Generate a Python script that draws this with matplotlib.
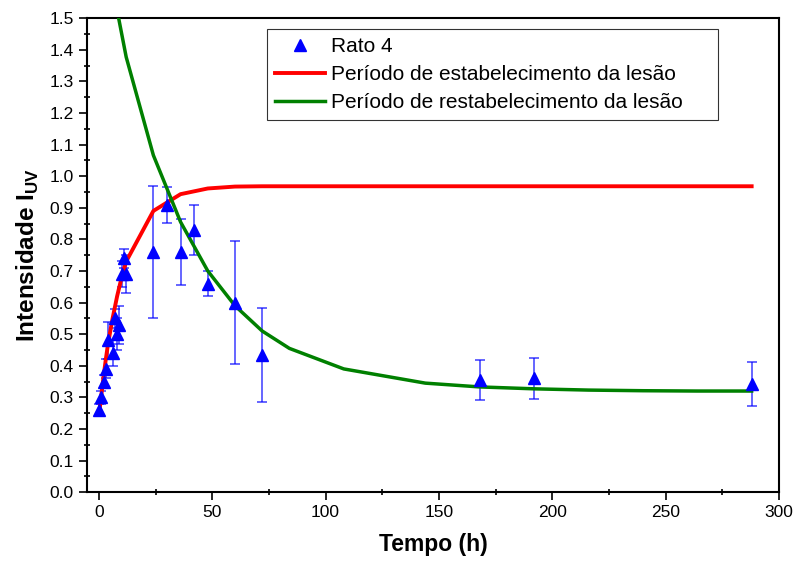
import numpy as np
import matplotlib
matplotlib.use("Agg")
import matplotlib.pyplot as plt

plt.rcParams['font.family'] = ['Liberation Sans', 'DejaVu Sans']
plt.rcParams['mathtext.fontset'] = 'custom'
plt.rcParams['mathtext.rm'] = 'Liberation Sans'
plt.rcParams['mathtext.bf'] = 'Liberation Sans:bold'

# measured points (Rato 4)
t_data = [0, 1, 2, 3, 4, 6, 7, 8, 9, 10, 11, 12, 24, 30, 36, 42, 48, 60, 72, 168, 192, 288]
i_data = [0.26, 0.30, 0.35, 0.39, 0.48, 0.44, 0.55, 0.50, 0.53, 0.69, 0.74, 0.69,
          0.76, 0.91, 0.76, 0.83, 0.66, 0.60, 0.435, 0.355, 0.36, 0.343]
i_err = [0.02, 0.02, 0.02, 0.03, 0.06, 0.04, 0.03, 0.05, 0.06, 0.04, 0.03, 0.06,
         0.21, 0.057, 0.105, 0.08, 0.04, 0.196, 0.149, 0.063, 0.064, 0.069]

# fitted curves
t_est = [0, 1, 2, 3, 4, 6, 8, 10, 12, 24, 36, 48, 60, 72, 84, 108, 144, 168, 192, 216, 240, 264, 288]
i_est = [0.245, 0.305, 0.365, 0.42, 0.47, 0.55, 0.62, 0.68, 0.73, 0.89, 0.943, 0.961, 0.967,
         0.968, 0.968, 0.968, 0.968, 0.968, 0.968, 0.968, 0.968, 0.968, 0.968]

t_rest = [0, 12, 24, 36, 48, 60, 72, 84, 108, 144, 168, 192, 216, 240, 264, 288]
i_rest = [1.82, 1.377, 1.066, 0.855, 0.70, 0.59, 0.51, 0.455, 0.39, 0.345, 0.333, 0.327,
          0.323, 0.321, 0.32, 0.32]

fig = plt.figure(figsize=(7.98, 5.67), dpi=100)
ax = fig.add_axes([0.109, 0.132, 0.867, 0.836])

ax.errorbar(t_data, i_data, yerr=i_err, fmt='none', ecolor='#0000ff', alpha=0.7,
            elinewidth=1.2, capsize=3.5, capthick=1.2, zorder=2)
ax.plot(t_data, i_data, '^', color='#0000ff', markersize=9, label='Rato 4', zorder=4)
ax.plot(t_est, i_est, color='#ff0000', lw=2.8, label='Período de estabelecimento da lesão', zorder=3)
ax.plot(t_rest, i_rest, color='#008000', lw=2.5, label='Período de restabelecimento da lesão', zorder=3)

ax.set_xlim(-5.3, 300)
ax.set_ylim(0, 1.5)
ax.set_xticks(np.arange(0, 301, 50))
ax.set_xticks(np.arange(25, 300, 50), minor=True)
ax.set_yticks(np.arange(0, 1.51, 0.1))
ax.set_yticks(np.arange(0.05, 1.5, 0.1), minor=True)
ax.yaxis.set_major_formatter(matplotlib.ticker.FormatStrFormatter('%.1f'))
ax.tick_params(which='major', direction='out', length=6, width=1.2, labelsize=12.5)
ax.tick_params(which='minor', direction='inout', length=5, width=1.2)
for s in ax.spines.values():
    s.set_linewidth(1.5)

ax.set_xlabel('Tempo (h)', fontsize=16.5, fontweight='bold', labelpad=9)
ax.set_ylabel(r'Intensidade I$_\mathbf{UV}$', fontsize=17.5, fontweight='bold', labelpad=6)

leg = ax.legend(loc='upper left', bbox_to_anchor=(0.26, 0.80, 0.652, 0.177), mode='expand',
                fontsize=15, frameon=True, fancybox=False, edgecolor='black',
                handlelength=2.4, handletextpad=0.3, labelspacing=0.42, borderpad=0.4,
                borderaxespad=0)
leg.get_frame().set_linewidth(0.8)

fig.savefig('out.png', dpi=100)
